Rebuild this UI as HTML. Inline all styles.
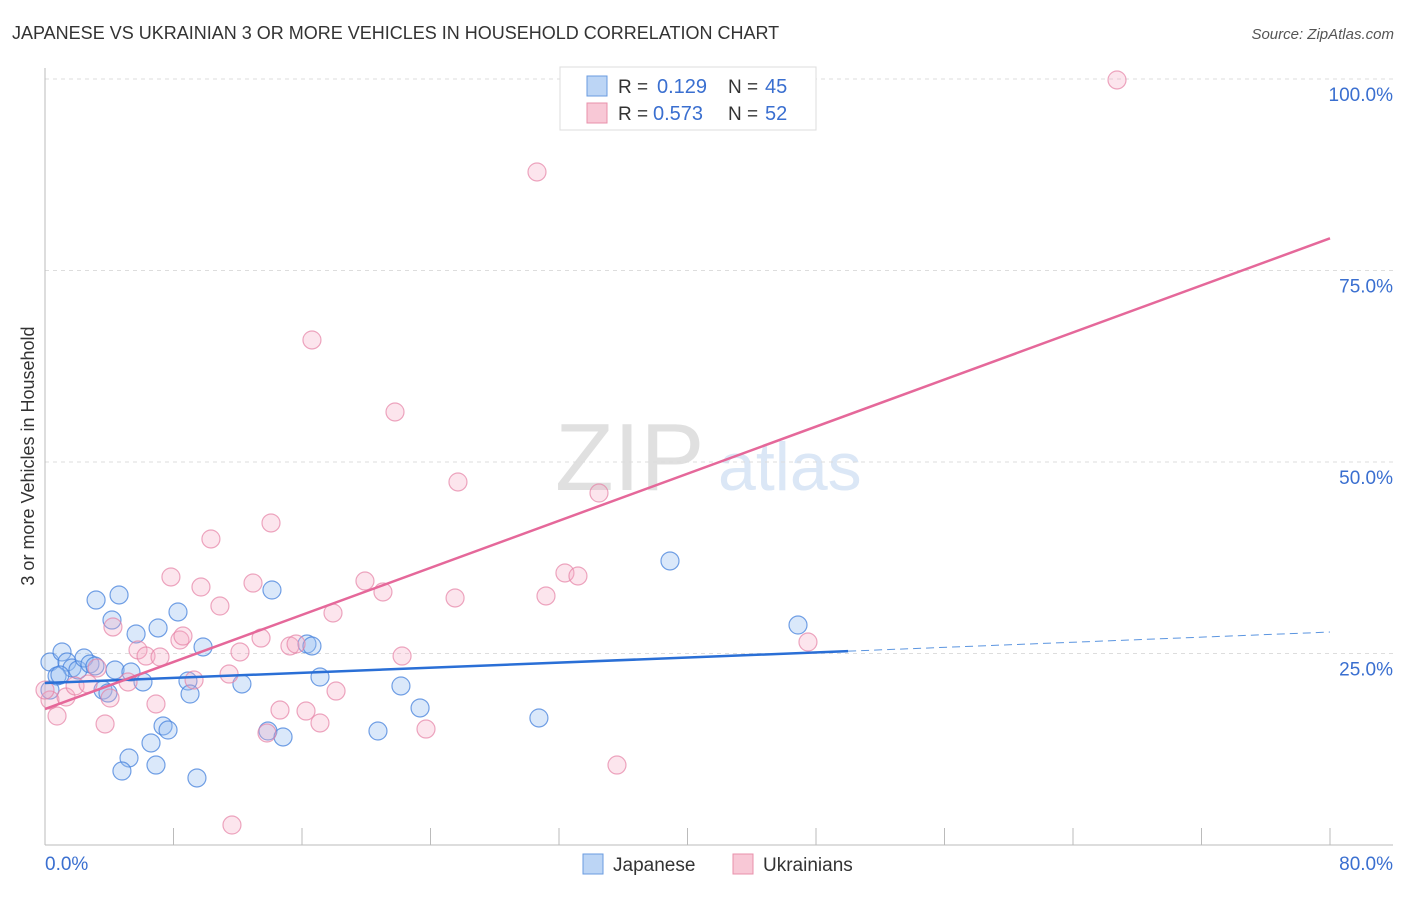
<!DOCTYPE html>
<html><head><meta charset="utf-8"><style>
body{margin:0;background:#fff;font-family:"Liberation Sans",sans-serif;}
svg text{font-family:"Liberation Sans",sans-serif;}
</style></head><body>
<svg width="1406" height="892" id="chart">
<text x="12" y="39" font-size="18" fill="#333">JAPANESE VS UKRAINIAN 3 OR MORE VEHICLES IN HOUSEHOLD CORRELATION CHART</text>
<text x="1394" y="39" font-size="15" fill="#555" font-style="italic" text-anchor="end">Source: ZipAtlas.com</text>
<text x="34" y="456" font-size="18" fill="#333" text-anchor="middle" transform="rotate(-90 34 456)">3 or more Vehicles in Household</text>
<text x="555" y="490" font-size="96" fill="#e0e0e0" font-family="Liberation Serif">ZIP</text>
<text x="718" y="490" font-size="68" fill="#dbe7f6">atlas</text>
<g id="grid"></g><g id="axes"></g><g id="pts"></g><g id="lines"></g>
<g>
<rect x="560" y="67" width="256" height="63" fill="#fff" stroke="#ddd"/>
<rect x="587" y="76" width="20" height="20" fill="#bcd5f5" stroke="#6a9be0"/>
<text x="618" y="93" font-size="19" fill="#333">R =</text>
<text x="657" y="93" font-size="20" fill="#3a6fd0">0.129</text>
<text x="728" y="93" font-size="19" fill="#333">N =</text>
<text x="765" y="93" font-size="20" fill="#3a6fd0">45</text>
<rect x="587" y="103" width="20" height="20" fill="#f8c8d6" stroke="#e890ab"/>
<text x="618" y="120" font-size="19" fill="#333">R =</text>
<text x="653" y="120" font-size="20" fill="#3a6fd0">0.573</text>
<text x="728" y="120" font-size="19" fill="#333">N =</text>
<text x="765" y="120" font-size="20" fill="#3a6fd0">52</text>
</g>
<g>
<rect x="583" y="854" width="20" height="20" fill="#bcd5f5" stroke="#6a9be0"/>
<text x="613" y="871" font-size="19" fill="#333">Japanese</text>
<rect x="733" y="854" width="20" height="20" fill="#f8c8d6" stroke="#e890ab"/>
<text x="763" y="871" font-size="19" fill="#333">Ukrainians</text>
</g>
</svg>
<script>
const bluePx=[[50,662],[62,652],[67,662],[72,668],[78,670],[84,658],[90,664],[95,666],[103,690],[108,693],[96,600],[112,620],[119,595],[115,670],[131,672],[136,634],[143,682],[158,628],[178,612],[163,726],[168,730],[151,743],[129,758],[122,771],[156,765],[188,681],[190,694],[197,778],[203,647],[242,684],[272,590],[268,731],[283,737],[307,644],[312,646],[320,677],[378,731],[401,686],[420,708],[539,718],[670,561],[798,625],[50,690],[57,676],[60,675]];
const pinkPx=[[50,700],[57,716],[66,697],[75,686],[88,684],[97,668],[105,724],[110,698],[113,627],[128,682],[138,650],[146,656],[156,704],[160,657],[171,577],[180,640],[183,636],[194,680],[201,587],[211,539],[220,606],[229,674],[232,825],[240,652],[253,583],[261,638],[271,523],[267,733],[280,710],[290,646],[296,644],[306,711],[312,340],[320,723],[333,613],[336,691],[365,581],[383,592],[395,412],[402,656],[426,729],[455,598],[458,482],[537,172],[546,596],[565,573],[578,576],[599,493],[617,765],[808,642],[1117,80],[45,690]];
const r2=v=>Math.round(v*100)/100;
const japaneseX=bluePx.map(p=>r2((p[0]-45)/1285*80));
const japaneseY=bluePx.map(p=>r2((845-p[1])/7.66));
const ukrainianX=pinkPx.map(p=>r2((p[0]-45)/1285*80));
const ukrainianY=pinkPx.map(p=>r2((845-p[1])/7.66));
const yTicks=[25,50,75,100];
const yTickLabels=["25.0%","50.0%","75.0%","100.0%"];
const japaneseTrend=[21.15,27.8];
const ukrainianTrend=[17.75,79.2];
const japaneseSolidEnd=50;

const NS="http://www.w3.org/2000/svg";
const sx=v=>45+v/80*1285, sy=v=>845-v*7.66;
function mk(tag,at,parent){const e=document.createElementNS(NS,tag);for(const k in at)e.setAttribute(k,at[k]);document.getElementById(parent).appendChild(e);return e;}
yTicks.forEach((t,i)=>{
  const l=mk('line',{x1:45,x2:1393,y1:sy(t),y2:sy(t),stroke:'#ddd','stroke-dasharray':'4,4'},'grid');
  
  
  const tx=mk('text',{x:1393,y:sy(t)+22,'font-size':19,fill:'#3a6fd0','text-anchor':'end'},'grid');
  tx.textContent=yTickLabels[i];
  
  
});
mk('line',{x1:45,x2:45,y1:68,y2:845,stroke:'#bbb'},'axes');
mk('line',{x1:45,x2:1393,y1:845,y2:845,stroke:'#bbb'},'axes');
for(let i=1;i<=10;i++){const x=sx(i*8);const t=mk('line',{x1:x,x2:x,y1:828,y2:845,stroke:'#bbb'},'axes');
  
  }
const x0=mk('text',{x:45,y:870,'font-size':19,fill:'#3a6fd0'},'axes');x0.textContent='0.0%';


const x1=mk('text',{x:1393,y:870,'font-size':19,fill:'#3a6fd0','text-anchor':'end'},'axes');x1.textContent='80.0%';


japaneseX.forEach((v,i)=>{const c=mk('circle',{cx:sx(v),cy:sy(japaneseY[i]),r:9,fill:'rgba(150,190,240,0.35)',stroke:'rgba(70,130,220,0.75)','stroke-width':1.2},'pts');
  
  });
ukrainianX.forEach((v,i)=>{const c=mk('circle',{cx:sx(v),cy:sy(ukrainianY[i]),r:9,fill:'rgba(245,170,195,0.3)',stroke:'rgba(230,130,165,0.7)','stroke-width':1.2},'pts');
  
  });
const jy=x=>japaneseTrend[0]+(japaneseTrend[1]-japaneseTrend[0])*x/80;
const a=mk('line',{x1:sx(0),y1:sy(jy(0)),x2:sx(japaneseSolidEnd),y2:sy(jy(japaneseSolidEnd)),stroke:'#2a6fd6','stroke-width':2.5},'lines');


const b=mk('line',{x1:sx(japaneseSolidEnd),y1:sy(jy(japaneseSolidEnd)),x2:sx(80),y2:sy(jy(80)),stroke:'#5b95e0','stroke-width':1,'stroke-dasharray':'8,5'},'lines');


const c=mk('line',{x1:sx(0),y1:sy(ukrainianTrend[0]),x2:sx(80),y2:sy(ukrainianTrend[1]),stroke:'#e5689a','stroke-width':2.5},'lines');


</script>
</body></html>
